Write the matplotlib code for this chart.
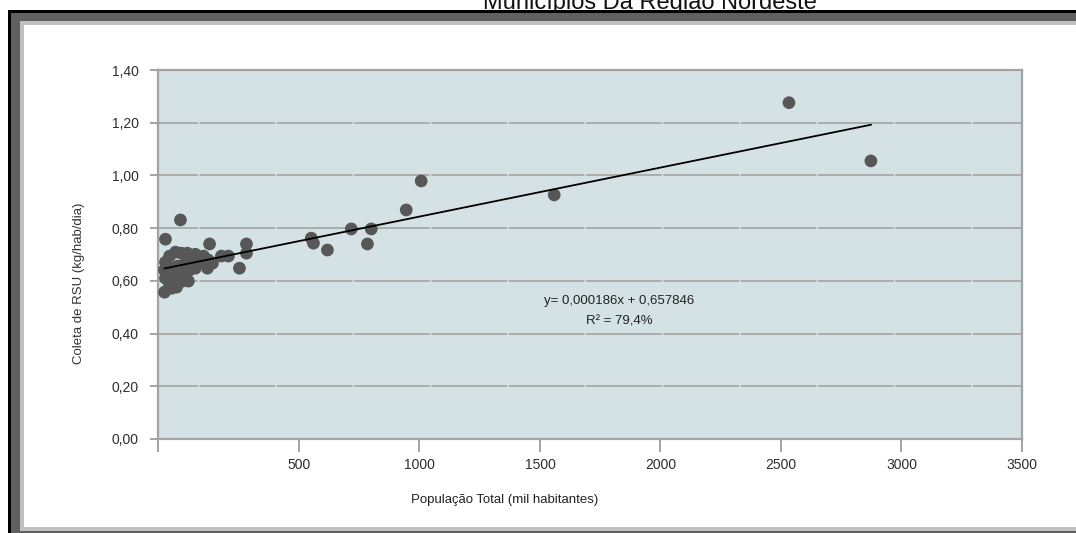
import matplotlib
matplotlib.use("Agg")
import matplotlib.pyplot as plt
from matplotlib.patches import Rectangle
import numpy as np

plt.rcParams['font.family'] = ['Liberation Sans', 'DejaVu Sans']
plt.rcParams['lines.scale_dashes'] = False

# População total (mil habitantes) e coleta de RSU (kg/hab/dia) por município
populacao = [
    -54, 8, -54, -37, -12, 12, 37, -58, -29, -4, 25, 54, -54, -25, 4, 29,
    -37, -8, 17, -58, -29, 41, 46, 70, 87, 70, 104, 124, 120, 141, 129,
    178, 207, 253, 282, 282,
    551, 560, 618, 717, 784, 800, 945, 1007, 1559, 2533, 2873,
]
coleta = [
    0.758, 0.831, 0.671, 0.694, 0.709, 0.705, 0.705, 0.641, 0.648, 0.656,
    0.663, 0.671, 0.610, 0.614, 0.618, 0.625, 0.584, 0.576, 0.599, 0.557,
    0.572, 0.599, 0.641, 0.648, 0.671, 0.701, 0.694, 0.679, 0.648, 0.667,
    0.740, 0.694, 0.694, 0.648, 0.740, 0.705,
    0.762, 0.743, 0.717, 0.797, 0.740, 0.797, 0.869, 0.979, 0.926, 1.276,
    1.055,
]

# Linha de tendência
coef_a = 0.000186
coef_b = 0.657846
r2_pct = "79,4"

titulo = "Municípios Da Região Nordeste"
x_label = "População Total (mil habitantes)"
y_label = "Coleta de RSU (kg/hab/dia)"
x_ticks = [500, 1000, 1500, 2000, 2500, 3000, 3500]
y_ticks = [0.0, 0.2, 0.4, 0.6, 0.8, 1.0, 1.2, 1.4]

W, H = 1076, 533
fig = plt.figure(figsize=(W / 100, H / 100), dpi=100)
fig.patch.set_facecolor('white')


def frect(x0, y0, x1, y1, color):
    """Rectangle in pixel coordinates measured from the top-left corner."""
    fig.patches.append(Rectangle((x0 / W, 1 - y1 / H), (x1 - x0) / W, (y1 - y0) / H,
                                 transform=fig.transFigure, facecolor=color,
                                 edgecolor='none', zorder=0))


# Moldura
frect(8, 10, W, H, '#000000')
frect(11, 13, W, H, '#606060')
frect(20, 21, W, 531, '#c0c0c0')
frect(24, 25, W, 527, '#ffffff')

fig.text(650 / W, 1 - 9 / H, titulo, ha='center', va='baseline', fontsize=17,
         color='#111111', zorder=-1)

ax = fig.add_axes([158 / W, 1 - 439 / H, (1022 - 158) / W, (439 - 70) / H])
ax.set_zorder(2)
ax.set_facecolor('#d4e2e5')
ax.set_xlim(-85, 3500)
ax.set_ylim(0, 1.4)

spine_c = '#a3a3a3'
for s in ax.spines.values():
    s.set_color(spine_c)
    s.set_linewidth(1.6)

# Grade horizontal tracejada
px = 0.72
for yv in y_ticks[1:-1]:
    ax.axhline(yv, color='#a8a8a8', lw=1.3, zorder=1,
               linestyle=(35.8 * px, (75.8 * px, 1.5 * px)))

ax.set_xticks([-85] + x_ticks)
ax.set_xticklabels([''] + [str(v) for v in x_ticks])
ax.set_yticks(y_ticks)
ax.set_yticklabels([f"{v:.2f}".replace('.', ',') for v in y_ticks])
ax.tick_params(axis='both', colors=spine_c, width=1.4, length=9,
               labelcolor='#2e2e2e', labelsize=10)
ax.tick_params(axis='y', length=6, pad=8)
ax.tick_params(axis='x', pad=5)

ax.scatter(populacao, coleta, s=84, color='#575757', edgecolors='none',
           zorder=3)

xl = np.array([min(populacao), max(populacao)])
ax.plot(xl, coef_a * xl + coef_b, color='#000000', lw=1.3, zorder=4)

fig.text(619 / W, 1 - 301 / H, f"y= {coef_a:.6f}x + {coef_b:.6f}".replace('.', ','),
         ha='center', va='center', fontsize=9.5, color='#222222', zorder=5)
fig.text(619 / W, 1 - 321 / H, f"R² = {r2_pct}%", ha='center', va='center',
         fontsize=9.5, color='#222222', zorder=5)

fig.text(505 / W, 1 - 500 / H, x_label, ha='center', va='center', fontsize=9.5,
         color='#222222')
fig.text(79 / W, 1 - 283 / H, y_label, ha='center', va='center', fontsize=9.5,
         rotation=90, color='#333333')

fig.savefig('out.png', dpi=100)
